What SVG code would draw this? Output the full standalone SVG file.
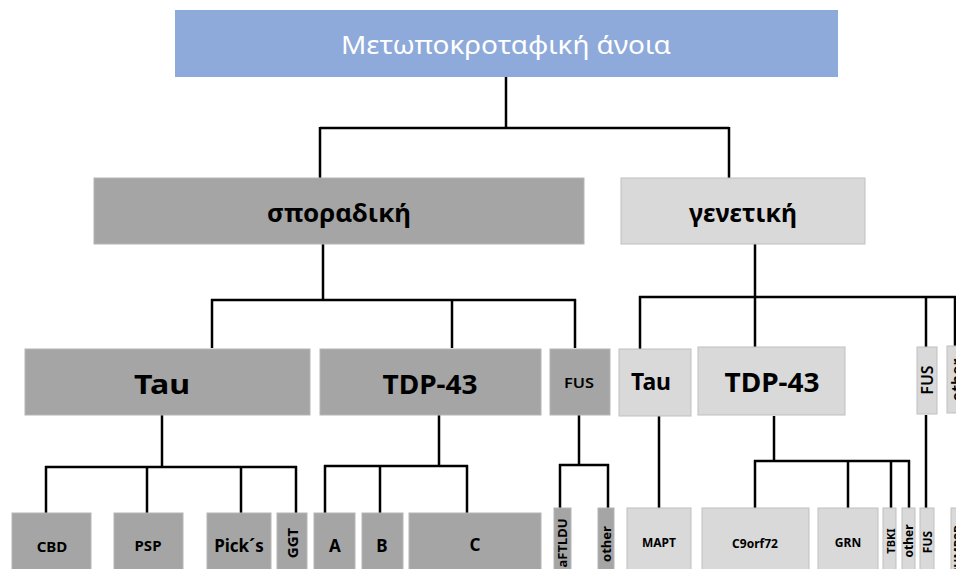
<svg xmlns="http://www.w3.org/2000/svg" width="956" height="569" viewBox="0 0 956 569">
<style>
.dark{fill:#a5a5a5;stroke:#b5b5b5;stroke-width:1}
.light{fill:#d9d9d9;stroke:#bfbfbf;stroke-width:1}
.top{fill:#8eaadb}
text{font-family:"Noto Sans","Open Sans","DejaVu Sans",sans-serif;fill:#000;text-anchor:middle;dominant-baseline:central}
.b{font-weight:bold}
.w{fill:#ffffff}
#connectors path{fill:none;stroke:#000;stroke-width:2.5}
</style>
<rect width="956" height="569" fill="#ffffff"/>
<g id="connectors">
<path d="M506 77V128M320 128H729M320 127V178M729 127V178"/>
<path d="M323 244V300M211 300H576M212 299V348M452 299V348M575 299V348"/>
<path d="M755 244V296M639 297H956M640 296V349M755 296V347M926 296V347M955 296V346"/>
<path d="M162 415V467M45 467H297M46 466V513M147 466V513M241 466V513M296 466V513"/>
<path d="M439 415V466M324 466H468M325 465V513M380 465V513M467 465V513"/>
<path d="M579 415V465M559 465H609M560 464V508M608 464V508"/>
<path d="M659 416V508"/>
<path d="M774 416V461M754 461H910M755 460V508M848 460V508M891 460V508M909 460V508"/>
<path d="M926 415V508"/>
</g>
<g id="n-root"><rect class="top" x="175" y="10" width="663" height="67"/><text class="w" x="506" y="44" font-size="26" textLength="330" lengthAdjust="spacingAndGlyphs">Μετωποκροταφική άνοια</text></g>
<g id="n-sporadic"><rect class="dark" x="94" y="178" width="490" height="66"/><text class="b" x="339" y="212" font-size="25" textLength="144" lengthAdjust="spacingAndGlyphs">σποραδική</text></g>
<g id="n-genetic"><rect class="light" x="621" y="178" width="244" height="66"/><text class="b" x="743" y="212" font-size="25" textLength="108" lengthAdjust="spacingAndGlyphs">γενετική</text></g>
<g id="n-s-tau"><rect class="dark" x="25" y="349" width="285" height="66"/><text class="b" x="162" y="383" font-size="27" textLength="56" lengthAdjust="spacingAndGlyphs">Tau</text></g>
<g id="n-s-tdp"><rect class="dark" x="320" y="349" width="221" height="66"/><text class="b" x="430" y="383" font-size="27" textLength="95" lengthAdjust="spacingAndGlyphs">TDP-43</text></g>
<g id="n-s-fus"><rect class="dark" x="550" y="349" width="60" height="66"/><text x="579" y="382" font-size="15" font-weight="600" textLength="30" lengthAdjust="spacingAndGlyphs">FUS</text></g>
<g id="n-g-tau"><rect class="light" x="619" y="349" width="72" height="67"/><text class="b" x="651" y="381" font-size="23" textLength="40" lengthAdjust="spacingAndGlyphs">Tau</text></g>
<g id="n-g-tdp"><rect class="light" x="698" y="347" width="147" height="68"/><text class="b" x="772" y="381" font-size="27" textLength="95" lengthAdjust="spacingAndGlyphs">TDP-43</text></g>
<g id="n-g-fus"><rect class="light" x="917" y="347" width="20" height="67"/><text x="927" y="380" font-size="16" font-weight="600" transform="rotate(-90 927 380)">FUS</text></g>
<g id="n-g-other"><rect class="light" x="947" y="346" width="20" height="67"/><text x="957" y="380" font-size="16" font-weight="600" transform="rotate(-90 957 380)">other</text></g>
<g id="n-cbd"><rect class="dark" x="12" y="513" width="79" height="60"/><text class="b" x="52" y="546" font-size="15">CBD</text></g>
<g id="n-psp"><rect class="dark" x="114" y="513" width="69" height="60"/><text class="b" x="148" y="545" font-size="15">PSP</text></g>
<g id="n-picks"><rect class="dark" x="207" y="513" width="64" height="60"/><text class="b" x="239" y="545" font-size="17">Pick´s</text></g>
<g id="n-ggt"><rect class="dark" x="277" y="513" width="30" height="60"/><text class="b" x="292" y="543" font-size="15" transform="rotate(-90 292 543)">GGT</text></g>
<g id="n-a"><rect class="dark" x="314" y="513" width="41" height="60"/><text class="b" x="335" y="545" font-size="17">A</text></g>
<g id="n-b"><rect class="dark" x="362" y="513" width="41" height="60"/><text class="b" x="382" y="545" font-size="17">B</text></g>
<g id="n-c"><rect class="dark" x="409" y="513" width="132" height="60"/><text class="b" x="475" y="544" font-size="17">C</text></g>
<g id="n-aftldu"><rect class="dark" x="554" y="508" width="17" height="65"/><text class="b" x="562" y="543" font-size="13" transform="rotate(-90 562 543)">aFTLDU</text></g>
<g id="n-s-other"><rect class="dark" x="598" y="508" width="16" height="65"/><text class="b" x="606" y="544" font-size="13" transform="rotate(-90 606 544)">other</text></g>
<g id="n-mapt"><rect class="light" x="627" y="508" width="64" height="65"/><text class="b" x="659" y="542" font-size="12">MAPT</text></g>
<g id="n-c9"><rect class="light" x="702" y="508" width="107" height="65"/><text class="b" x="755" y="543" font-size="12">C9orf72</text></g>
<g id="n-grn"><rect class="light" x="818" y="508" width="60" height="65"/><text class="b" x="848" y="542" font-size="12">GRN</text></g>
<g id="n-tbki"><rect class="light" x="883" y="508" width="13" height="65"/><text class="b" x="890" y="541" font-size="11" transform="rotate(-90 890 541)">TBKI</text></g>
<g id="n-g-other2"><rect class="light" x="902" y="508" width="13" height="65"/><text class="b" x="908" y="541" font-size="12" transform="rotate(-90 908 541)">other</text></g>
<g id="n-g-fus2"><rect class="light" x="920" y="508" width="14" height="65"/><text class="b" x="927" y="542" font-size="12" transform="rotate(-90 927 542)">FUS</text></g>
<g id="n-chmp"><rect class="light" x="951" y="508" width="14" height="65"/><text class="b" x="958" y="525" font-size="12" style="text-anchor:end" transform="rotate(-90 958 525)">CHMP2B</text></g>
</svg>
